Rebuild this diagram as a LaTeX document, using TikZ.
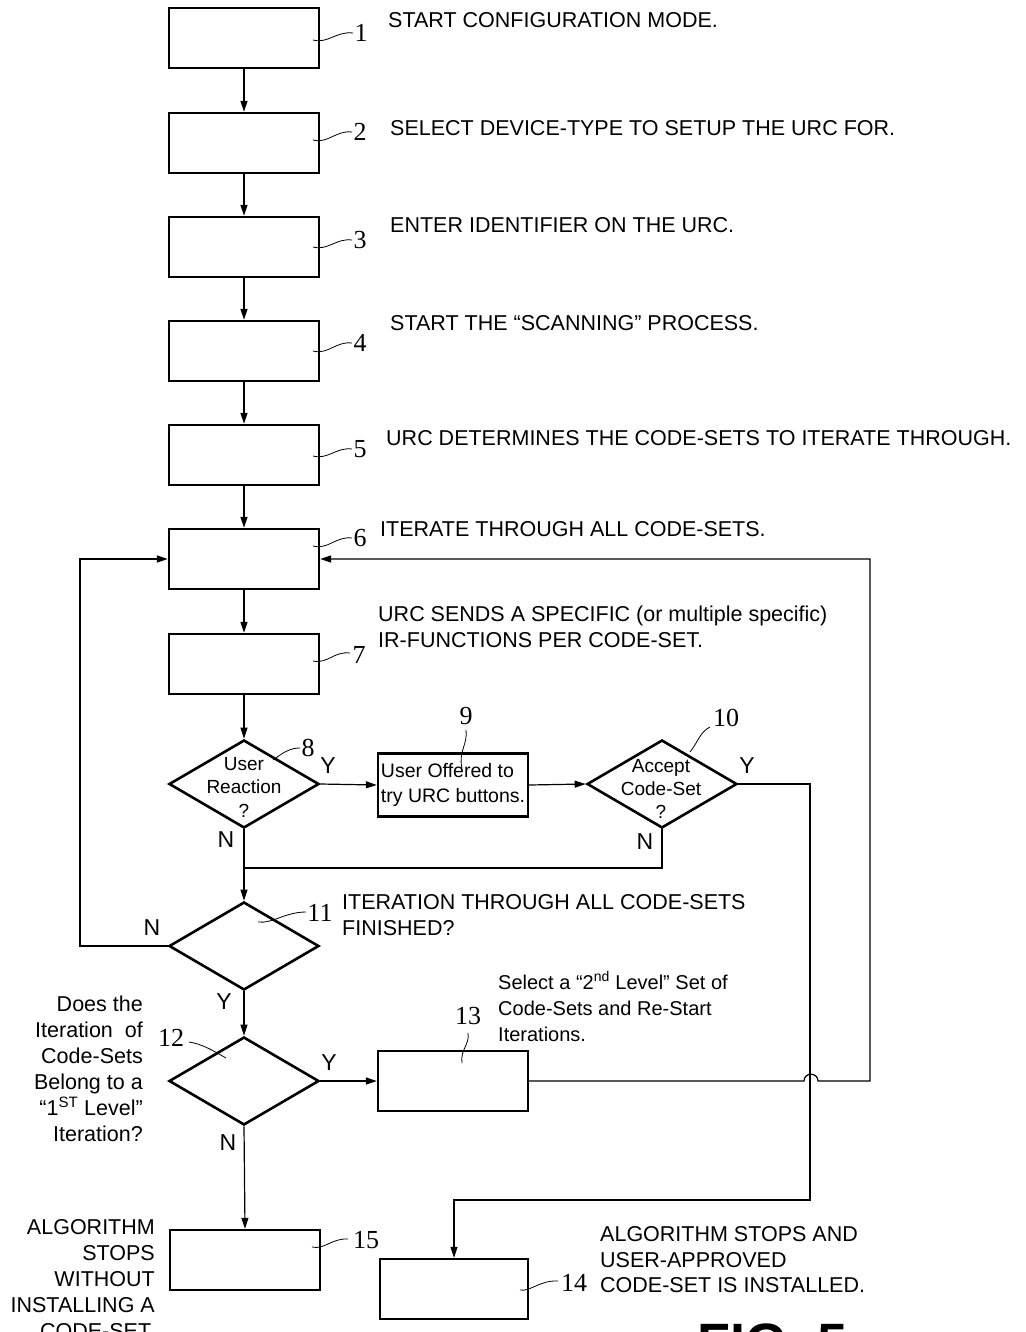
\documentclass[tikz,border=0pt]{standalone}
\usepackage{fontspec}
\setmainfont{Liberation Sans}
\newfontfamily\numfont{Liberation Serif}
\usetikzlibrary{arrows.meta,shapes.geometric}
\begin{document}
\begin{tikzpicture}[x=1pt,y=-1pt,
  box/.style={draw,line width=2.4pt,minimum width=150pt,minimum height=60pt,inner sep=0pt},
  dia/.style={draw,diamond,line width=2.6pt,minimum width=150pt,minimum height=88pt,inner sep=0pt},
  conn/.style={line width=1.2pt},
  arr/.style={conn,-{Triangle[length=11pt,width=7pt]}},
  lead/.style={line width=0.8pt},
  num/.style={font=\numfont\fontsize{26}{26}\selectfont,inner sep=0pt},
  yn/.style={font=\fontsize{23}{23}\selectfont,inner sep=0pt},
  desc/.style={font=\fontsize{21.5}{26}\selectfont,inner sep=0pt,anchor=base west},
  descr/.style={font=\fontsize{21.5}{26}\selectfont,inner sep=0pt,anchor=base east},
  small/.style={font=\fontsize{19.5}{25}\selectfont,inner sep=0pt},
]
\useasboundingbox (0,0) rectangle (1025,1332);

% ---------------- boxes
\node[box] (b1) at (244,38) {};
\node[box] (b2) at (244,143) {};
\node[box] (b3) at (244,247) {};
\node[box] (b4) at (244,351) {};
\node[box] (b5) at (244,455) {};
\node[box] (b6) at (244,559) {};
\node[box] (b7) at (244,664) {};
\node[dia] (d8) at (244,784) {};
\node[box,minimum height=63pt,small,align=left] (b9) at (453,785) {User Offered to\\try URC buttons.};
\node[dia] (d10) at (662,784) {};
\node[dia] (d11) at (244,946) {};
\node[dia] (d12) at (244,1081) {};
\node[box] (b13) at (453,1081) {};
\node[box,minimum width=148pt] (b14) at (454,1289) {};
\node[box] (b15) at (245,1260) {};

% diamond texts
\node[small,align=center,font=\fontsize{19}{23.5}\selectfont] (d8t) at (244,787) {User\\Reaction\\?};
\node[small,align=center,font=\fontsize{19}{23}\selectfont] (d10t) at (661,789) {Accept\\Code-Set\\?};

% ---------------- coordinates for connector bends
\coordinate (j1) at (244,868);
\coordinate (cR) at (810,1200);
\coordinate (hopL) at (804,1081);
\coordinate (hopR) at (818,1081);
\coordinate (cRR) at (870,1081);
\coordinate (cL) at (80,946);

% ---------------- connectors
\draw[arr] (b1.south) -- (b2.north);
\draw[arr] (b2.south) -- (b3.north);
\draw[arr] (b3.south) -- (b4.north);
\draw[arr] (b4.south) -- (b5.north);
\draw[arr] (b5.south) -- (b6.north);
\draw[arr] (b6.south) -- (b7.north);
\draw[arr] (b7.south) -- (d8.north);
\draw[arr] (d8.east) -- (b9.west);
\draw[arr] (b9.east) -- (d10.west);
\draw[arr] (d8.south) -- (d11.north);
\draw[conn] (d10.south) |- (j1);
\draw[arr] (d10.east) -| (cR) -| (b14.north);
\draw[arr] (b13.east) -- (hopL) .. controls (804,1072) and (818,1072) .. (hopR) -- (cRR) |- (b6.east);
\draw[arr] (d11.west) -- (cL) |- (b6.west);
\draw[arr] (d11.south) -- (d12.north);
\draw[arr] (d12.east) -- (b13.west);
\draw[arr] (d12.south) -- (b15.north);

% ---------------- reference numbers with leaders
\node[num] (n1) at (361,33) {1};
\draw[lead] (313,40) .. controls (328,44) and (336,31) .. (353,33);
\node[num] (n2) at (360,132) {2};
\draw[lead] (313,140) .. controls (328,144) and (336,130) .. (352,132);
\node[num] (n3) at (360,240) {3};
\draw[lead] (313,247) .. controls (328,251) and (336,238) .. (352,240);
\node[num] (n4) at (360,343) {4};
\draw[lead] (313,351) .. controls (328,355) and (336,341) .. (352,343);
\node[num] (n5) at (360,449) {5};
\draw[lead] (313,456) .. controls (328,460) and (336,447) .. (352,449);
\node[num] (n6) at (360,538) {6};
\draw[lead] (313,546) .. controls (328,550) and (336,536) .. (352,538);
\node[num] (n7) at (359,655) {7};
\draw[lead] (313,661) .. controls (328,664) and (334,651) .. (350,653);
\node[num] (n8) at (308,748) {8};
\draw[lead] (273,760) .. controls (284,752) and (290,748) .. (300,748);
\node[num] (n9) at (466,716) {9};
\draw[lead] (462,768) .. controls (458,752) and (468,744) .. (466,730);
\node[num] (n10) at (726,718) {10};
\draw[lead] (690,752) .. controls (698,742) and (700,732) .. (710,727);
\node[num] (n11) at (320,913) {11};
\draw[lead] (258,922) .. controls (272,924) and (285,912) .. (306,912);
\node[num] (n12) at (171,1038) {12};
\draw[lead] (189,1042) .. controls (202,1044) and (212,1050) .. (226,1058);
\node[num] (n13) at (468,1016) {13};
\draw[lead] (462,1063) .. controls (460,1050) and (470,1044) .. (468,1033);
\node[num] (n14) at (574,1283) {14};
\draw[lead] (520,1290) .. controls (530,1292) and (540,1280) .. (558,1281);
\node[num] (n15) at (366,1240) {15};
\draw[lead] (312,1247) .. controls (324,1250) and (332,1238) .. (348,1239);

% ---------------- Y / N labels
\node[yn] (y8) at (328,766) {Y};
\node[yn] (n8l) at (226,840) {N};
\node[yn] (y10) at (747,766) {Y};
\node[yn] (n10l) at (645,842) {N};
\node[yn] (n11l) at (152,928) {N};
\node[yn] (y11) at (224,1002) {Y};
\node[yn] (y12) at (329,1063) {Y};
\node[yn] (n12l) at (228,1143) {N};

% ---------------- description texts
\node[desc] (t1) at (388,28) {START CONFIGURATION MODE.};
\node[desc] (t2) at (390,136) {SELECT DEVICE-TYPE TO SETUP THE URC FOR.};
\node[desc] (t3) at (390,233) {ENTER IDENTIFIER ON THE URC.};
\node[desc] (t4) at (390,330) {START THE “SCANNING” PROCESS.};
\node[desc] (t5) at (386,445) {URC DETERMINES THE CODE-SETS TO ITERATE THROUGH.};
\node[desc] (t6) at (380,536) {ITERATE THROUGH ALL CODE-SETS.};
\node[desc] (t7a) at (378,621) {URC SENDS A SPECIFIC (or multiple specific)};
\node[desc] (t7b) at (378,647) {IR-FUNCTIONS PER CODE-SET.};
\node[desc] (t11a) at (342,909) {ITERATION THROUGH ALL CODE-SETS};
\node[desc] (t11b) at (342,935) {FINISHED?};
\node[desc,font=\fontsize{20}{25}\selectfont] (t13a) at (498,989) {Select a “2\textsuperscript{nd} Level” Set of};
\node[desc,font=\fontsize{20}{25}\selectfont] (t13b) at (498,1015) {Code-Sets and Re-Start};
\node[desc,font=\fontsize{20}{25}\selectfont] (t13c) at (498,1041) {Iterations.};
\node[descr] (t12a) at (143,1011) {Does the};
\node[descr] (t12b) at (143,1037) {Iteration\ \ of};
\node[descr] (t12c) at (143,1063) {Code-Sets};
\node[descr] (t12d) at (143,1089) {Belong to a};
\node[descr] (t12e) at (143,1115) {“1\textsuperscript{ST} Level”};
\node[descr] (t12f) at (143,1141) {Iteration?};
\node[descr] (t15a) at (155,1234) {ALGORITHM};
\node[descr] (t15b) at (155,1260) {STOPS};
\node[descr] (t15c) at (155,1286) {WITHOUT};
\node[descr] (t15d) at (155,1312) {INSTALLING A};
\node[descr] (t15e) at (155,1338) {CODE-SET.};
\node[desc] (t14a) at (600,1241) {ALGORITHM STOPS AND};
\node[desc] (t14b) at (600,1267) {USER-APPROVED};
\node[desc] (t14c) at (600,1292) {CODE-SET IS INSTALLED.};

% ---------------- figure caption (cut by the page edge)
\node[anchor=base west,inner sep=0pt,font=\bfseries\fontsize{54}{54}\selectfont] (fig) at (697,1361) {FIG. 5};
\end{tikzpicture}
\end{document}
